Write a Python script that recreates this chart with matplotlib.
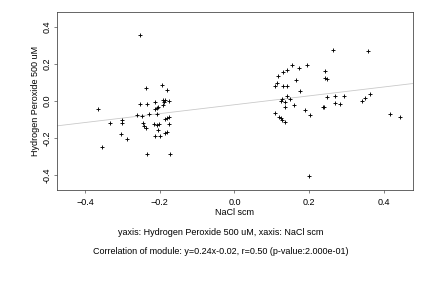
import numpy as np
import matplotlib
matplotlib.use('Agg')
import matplotlib.pyplot as plt

plt.rcParams['font.family'] = ['Liberation Sans', 'DejaVu Sans']

# NaCl scm (x) vs Hydrogen Peroxide 500 uM (y)
nacl_left = [-0.253, -0.364, -0.355, -0.332, -0.300, -0.300, -0.305, -0.287, -0.238, -0.254,
             -0.233, -0.260, -0.248, -0.246, -0.243, -0.238, -0.228, -0.233, -0.212, -0.212,
             -0.208, -0.205, -0.206, -0.214, -0.208, -0.203, -0.204, -0.212, -0.198, -0.193,
             -0.180, -0.190, -0.185, -0.174, -0.188, -0.190, -0.186, -0.181, -0.176, -0.174,
             -0.187, -0.180, -0.172]
h2o2_left = [0.357, -0.043, -0.249, -0.121, -0.103, -0.121, -0.178, -0.205, 0.069, -0.016,
             -0.016, -0.076, -0.081, -0.119, -0.135, -0.146, -0.070, -0.286, -0.005, -0.043,
             -0.036, -0.031, -0.070, -0.126, -0.128, -0.126, -0.157, -0.189, -0.189, 0.086,
             0.059, 0.007, 0.007, 0.000, -0.005, -0.022, -0.097, -0.090, -0.086, -0.126,
             -0.171, -0.168, -0.286]

nacl_right = [0.264, 0.358, 0.155, 0.173, 0.195, 0.131, 0.141, 0.117, 0.114, 0.109,
              0.131, 0.141, 0.165, 0.176, 0.243, 0.243, 0.248, 0.141, 0.149, 0.128,
              0.125, 0.136, 0.136, 0.160, 0.189, 0.203, 0.109, 0.120, 0.125, 0.128,
              0.136, 0.248, 0.270, 0.294, 0.237, 0.240, 0.270, 0.283, 0.363, 0.350,
              0.342, 0.417, 0.443, 0.200]
h2o2_right = [0.276, 0.270, 0.195, 0.178, 0.195, 0.157, 0.168, 0.135, 0.097, 0.081,
              0.081, 0.081, 0.114, 0.054, 0.162, 0.124, 0.119, 0.027, 0.011, 0.011,
              0.000, -0.005, -0.032, -0.022, -0.049, -0.076, -0.065, -0.086, -0.094, -0.103,
              -0.114, 0.022, 0.027, 0.027, -0.032, -0.032, -0.011, -0.016, 0.038, 0.016,
              0.000, -0.070, -0.086, -0.405]

slope = 0.24
intercept = -0.02

x = nacl_left + nacl_right
y = h2o2_left + h2o2_right

fig = plt.figure(figsize=(6, 4), dpi=72)
ax = fig.add_axes([0.132, 0.340, 0.823, 0.617])

xlim = (-0.475, 0.477)
ax.plot(xlim, [slope * v + intercept for v in xlim], c='#c8c8c8', lw=0.8, zorder=1)
ax.scatter(x, y, marker='+', c='k', s=14, lw=0.9, zorder=2)

ax.set_xlim(xlim)
ax.set_ylim(-0.481, 0.479)
ax.set_xticks([-0.4, -0.2, 0.0, 0.2, 0.4])
ax.set_yticks([-0.4, -0.2, 0.0, 0.2, 0.4])
ax.set_yticklabels(['-0.4', '-0.2', '0.0', '0.2', '0.4'], rotation=90, va='center')
ax.tick_params(labelsize=9, length=3, width=0.6, color='#333333')
ax.tick_params(axis='x', pad=5)
ax.tick_params(axis='y', pad=2)
for s in ax.spines.values():
    s.set_linewidth(0.8)
    s.set_color('#444444')

ax.set_xlabel('NaCl scm', fontsize=9, labelpad=1)
ax.set_ylabel('Hydrogen Peroxide 500 uM', fontsize=9, labelpad=3)

fig.text(0.51, 0.194, 'yaxis: Hydrogen Peroxide 500 uM, xaxis: NaCl scm', fontsize=9, ha='center', va='center')
fig.text(0.51, 0.128, 'Correlation of module: y=0.24x-0.02, r=0.50 (p-value:2.000e-01)',
         fontsize=9, ha='center', va='center')

fig.savefig('out.png', dpi=72)
